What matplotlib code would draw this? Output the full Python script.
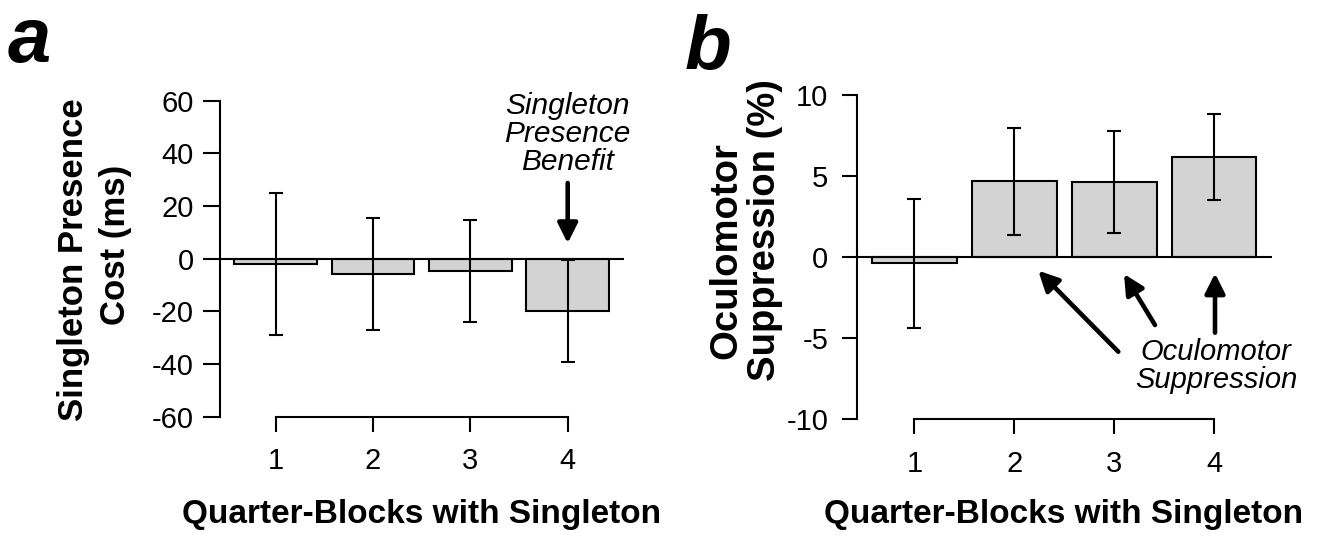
import matplotlib
matplotlib.use('Agg')
import matplotlib.pyplot as plt

plt.rcParams['font.family'] = ['Liberation Sans', 'DejaVu Sans']
plt.rcParams['axes.unicode_minus'] = False

# ---- data ----
blocks = [1, 2, 3, 4]
tick_labels = ['1', '2', '3', '4']
cost_means = [-2.0, -5.7, -4.8, -19.9]
cost_errs = [27.0, 21.3, 19.4, 19.4]
supp_means = [-0.37, 4.67, 4.63, 6.17]
supp_errs = [3.97, 3.3, 3.17, 2.63]
cost_yticks = [-60, -40, -20, 0, 20, 40, 60]
supp_yticks = [-10, -5, 0, 5, 10]

W, H = 1336, 540
fig = plt.figure(figsize=(13.36, 5.4), dpi=100)


def rect(left, top, right, bottom):
    return [left / W, 1 - bottom / H, (right - left) / W, (bottom - top) / H]


def fx(x):
    return x / W


def fy(y):
    return 1 - y / H


axa = fig.add_axes(rect(220, 100.7, 624, 416.7))
axb = fig.add_axes(rect(857.3, 95, 1271.7, 419.3))


def style(ax, means, errs, yticks, xlim, ylen, ypad):
    ax.bar(blocks, means, width=0.85, color='#d3d3d3', edgecolor='black',
           linewidth=1.5, zorder=2)
    ax.errorbar(blocks, means, yerr=errs, fmt='none', ecolor='black',
                elinewidth=1.5, capsize=5, capthick=1.5, zorder=3)
    ax.axhline(0, color='black', lw=1.5, zorder=4)
    ax.set_xlim(xlim)
    ax.set_ylim(yticks[0], yticks[-1])
    ax.set_yticks(yticks)
    ax.set_xticks(blocks)
    ax.set_xticklabels(tick_labels)
    for s in ['top', 'right']:
        ax.spines[s].set_visible(False)
    ax.spines['left'].set_linewidth(1.5)
    ax.spines['bottom'].set_linewidth(1.5)
    ax.spines['bottom'].set_bounds(1, 4)
    ax.tick_params(axis='y', length=ylen, width=1.5, pad=ypad, labelsize=21)
    ax.tick_params(axis='x', length=11, width=1.5, pad=11, labelsize=21)
    ax.patch.set_visible(False)


style(axa, cost_means, cost_errs, cost_yticks, (0.428, 4.578), 12, 7)
style(axb, supp_means, supp_errs, supp_yticks, (0.429, 4.578), 11, 10)

# panel letters
fig.text(fx(8), fy(62), 'a', fontsize=56, fontweight='bold', style='italic',
         ha='left', va='baseline')
fig.text(fx(685), fy(69), 'b', fontsize=55, fontweight='bold', style='italic',
         ha='left', va='baseline')

# y labels (two lines each, placed separately)
ylab_kw = dict(rotation=90, fontweight='bold', ha='center', va='center')
fig.text(fx(74), fy(260), 'Singleton Presence', fontsize=25, **ylab_kw)
fig.text(fx(115), fy(245), 'Cost (ms)', fontsize=25, **ylab_kw)
fig.text(fx(726), fy(251), 'Oculomotor', fontsize=27.5, **ylab_kw)
fig.text(fx(765), fy(230), 'Suppression (%)', fontsize=27.5, **ylab_kw)

# x labels
fig.text(fx(422), fy(515), 'Quarter-Blocks with Singleton', fontsize=24,
         fontweight='bold', ha='center', va='center')
fig.text(fx(1064), fy(514), 'Quarter-Blocks with Singleton', fontsize=24,
         fontweight='bold', ha='center', va='center')

# annotations panel a
fig.text(fx(567.7), fy(134), 'Singleton\nPresence\nBenefit', fontsize=21.5,
         style='italic', ha='center', va='center', linespacing=1.02)
arrow_kw = dict(arrowstyle='-|>,head_length=0.8,head_width=0.4', lw=3.3,
                color='black', mutation_scale=15, shrinkA=0, shrinkB=0)
axa.annotate('', xy=(567.7, H - 243.3), xytext=(567.7, H - 183),
             xycoords='figure pixels', textcoords='figure pixels',
             arrowprops=arrow_kw, annotation_clip=False)

# annotations panel b
fig.text(fx(1216), fy(366), 'Oculomotor\nSuppression', fontsize=21,
         style='italic', ha='center', va='center', linespacing=1.0)
for (tx, ty), (hx, hy) in [((1118.3, 351.7), (1038.3, 270.7)),
                           ((1155, 325), (1124, 274)),
                           ((1215, 332.7), (1215, 273.3))]:
    axb.annotate('', xy=(hx, H - hy), xytext=(tx, H - ty),
                 xycoords='figure pixels', textcoords='figure pixels',
                 arrowprops=arrow_kw, annotation_clip=False)

fig.savefig('out.png', dpi=100)
